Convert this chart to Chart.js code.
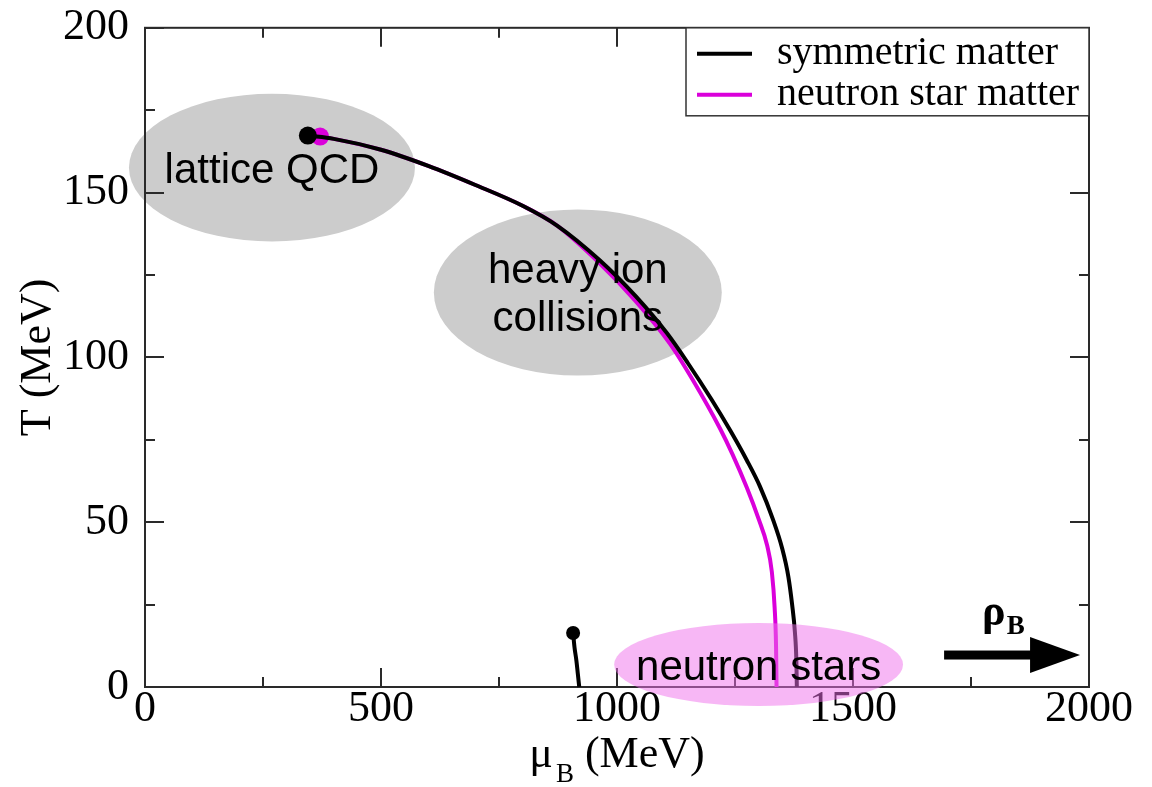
<!DOCTYPE html>
<html>
<head>
<meta charset="utf-8">
<title>QCD phase diagram</title>
<script src="https://cdn.jsdelivr.net/npm/chart.js@4.4.1/dist/chart.umd.min.js"></script>
<style>
  html, body { margin: 0; padding: 0; background: #ffffff; }
  #wrap { width: 1152px; height: 787px; }
</style>
</head>
<body>
<div id="wrap"><canvas id="phase" width="1152" height="787"></canvas></div>
<script>
// Transition lines: baryon chemical potential mu_B (MeV) and temperature T (MeV)
const symMu = [345, 400, 500, 600, 700, 800, 873, 964, 1040, 1106, 1150, 1200, 1240, 1275, 1303, 1330, 1350, 1363, 1371, 1377, 1380, 1381];
const symT  = [167.3, 166.3, 163.0, 158.1, 152.3, 146.0, 140.0, 129.4, 118.5, 107.3, 98.3, 87.3, 77.8, 68.8, 60.8, 51.0, 42.0, 33.5, 25.0, 16.5, 8.0, 0];

const nsMu = [371, 400, 500, 600, 700, 800, 873, 960, 1040, 1112, 1160, 1218, 1245, 1275, 1300, 1318, 1328, 1334, 1337, 1338];
const nsT  = [167.0, 166.3, 163.0, 158.1, 152.3, 146.0, 140.0, 129.0, 117.0, 104.2, 93.3, 78.5, 70.5, 60.5, 51.0, 43.0, 35.0, 24.0, 12.0, 0];

// Nuclear liquid-gas transition near saturation
const lgMu = [907, 910, 914, 917, 920];
const lgT  = [16.4, 12.0, 8.0, 4.0, 0];

const seriesNames = ['symmetric matter', 'neutron star matter'];

// Axis ticks (MeV)
const xTicks = [0, 500, 1000, 1500, 2000];
const yTicks = [0, 50, 100, 150, 200];

// Regions reached by each approach: centre and half-axes (MeV)
const regionNames  = [['lattice QCD'], ['heavy ion', 'collisions'], ['neutron stars']];
const regionMu     = [269, 917, 1300];
const regionT      = [157.6, 119.7, 6.8];
const regionHalfMu = [303, 305, 306];
const regionHalfT  = [22.4, 25.2, 12.6];

// Density arrow (MeV)
const arrowMu = [1693, 1981];
const arrowT  = [9.7, 9.7];

const SERIF = "'Liberation Serif', 'Times New Roman', serif";
const SANS  = "'Liberation Sans', Arial, sans-serif";
const MAGENTA = 'rgb(218, 0, 218)';
const AXIS = '#2a2a2a';

function pts(xs, ys) { return xs.map((x, i) => ({ x: x, y: ys[i] })); }
function firstDot(r) { return ctx => (ctx.dataIndex === 0 ? r : 0); }

const decor = {
  id: 'phaseDecor',
  beforeDatasetsDraw(chart) {
    const g = chart.ctx, xs = chart.scales.x, ys = chart.scales.y, a = chart.chartArea;
    g.save();
    // grey regions under the curves
    for (let i = 0; i < 2; i++) {
      const cx = xs.getPixelForValue(regionMu[i]), cy = ys.getPixelForValue(regionT[i]);
      const rx = Math.abs(xs.getPixelForValue(regionMu[i] + regionHalfMu[i]) - cx);
      const ry = Math.abs(ys.getPixelForValue(regionT[i] + regionHalfT[i]) - cy);
      g.beginPath();
      g.ellipse(cx, cy, rx, ry, 0, 0, Math.PI * 2);
      g.fillStyle = '#cccccc';
      g.fill();
    }
    // frame
    g.strokeStyle = AXIS;
    g.lineWidth = 2;
    g.strokeRect(a.left, a.top, a.right - a.left, a.bottom - a.top);
    // inward ticks on all four sides
    const major = 19, minor = 10;
    g.beginPath();
    for (let v = 0; v <= 2000; v += 250) {
      const px = Math.round(xs.getPixelForValue(v));
      const len = (v % 500 === 0) ? major : minor;
      g.moveTo(px, a.bottom); g.lineTo(px, a.bottom - len);
      g.moveTo(px, a.top); g.lineTo(px, a.top + len);
    }
    for (let v = 0; v <= 200; v += 25) {
      const py = Math.round(ys.getPixelForValue(v));
      const len = (v % 50 === 0) ? major : minor;
      g.moveTo(a.left, py); g.lineTo(a.left + len, py);
      g.moveTo(a.right, py); g.lineTo(a.right - len, py);
    }
    g.stroke();
    g.restore();
  },
  afterDatasetsDraw(chart) {
    const g = chart.ctx, xs = chart.scales.x, ys = chart.scales.y, a = chart.chartArea;
    g.save();
    // translucent neutron-star region over the curves
    {
      const i = 2;
      const cx = xs.getPixelForValue(regionMu[i]), cy = ys.getPixelForValue(regionT[i]);
      const rx = Math.abs(xs.getPixelForValue(regionMu[i] + regionHalfMu[i]) - cx);
      const ry = Math.abs(ys.getPixelForValue(regionT[i] + regionHalfT[i]) - cy);
      g.beginPath();
      g.ellipse(cx, cy, rx, ry, 0, 0, Math.PI * 2);
      g.fillStyle = 'rgba(240, 112, 236, 0.5)';
      g.fill();
    }
    // region labels
    g.fillStyle = '#000';
    g.font = '42px ' + SANS;
    g.textAlign = 'center';
    g.textBaseline = 'alphabetic';
    for (let i = 0; i < regionNames.length; i++) {
      const cx = xs.getPixelForValue(regionMu[i]), cy = ys.getPixelForValue(regionT[i]);
      const lines = regionNames[i];
      const step = 48;
      const y0 = cy + 15 - (lines.length - 1) * step / 2;
      lines.forEach((t, k) => g.fillText(t, cx, y0 + k * step));
    }
    // density arrow
    {
      const x0 = xs.getPixelForValue(arrowMu[0]), x1 = xs.getPixelForValue(arrowMu[1]);
      const y = ys.getPixelForValue(arrowT[0]);
      const head = 50, half = 18;
      g.fillStyle = '#000';
      g.fillRect(x0, y - 4.5, (x1 - head) - x0 + 2, 9);
      g.beginPath();
      g.moveTo(x1, y);
      g.lineTo(x1 - head, y - half);
      g.lineTo(x1 - head, y + half);
      g.closePath();
      g.fill();
      // rho_B label
      g.textAlign = 'left';
      g.font = 'bold 44px ' + SERIF;
      g.fillText('\u03C1', x0 + 38, y - 30);
      const w = g.measureText('\u03C1').width;
      g.font = 'bold 27px ' + SERIF;
      g.fillText('B', x0 + 38 + w + 1, y - 21);
    }
    // legend
    {
      const w = 403, h = 88;
      const lx = a.right - w, ly = a.top;
      g.fillStyle = '#fff';
      g.fillRect(lx, ly, w, h);
      g.strokeStyle = '#333';
      g.lineWidth = 1.5;
      g.strokeRect(lx, ly, w, h);
      const ds = chart.data.datasets.filter(d => seriesNames.includes(d.label));
      ds.forEach((d, k) => {
        const yy = ly + 26 + k * 41;
        g.strokeStyle = d.borderColor;
        g.lineWidth = 4;
        g.beginPath();
        g.moveTo(lx + 11, yy); g.lineTo(lx + 66, yy);
        g.stroke();
        g.fillStyle = '#000';
        g.font = '40px ' + SERIF;
        g.textAlign = 'left';
        g.textBaseline = 'alphabetic';
        g.fillText(d.label, lx + 91, yy + 10);
      });
    }
    // axis titles
    {
      g.fillStyle = '#000';
      g.textBaseline = 'alphabetic';
      g.textAlign = 'left';
      const big = '44px ' + SERIF, small = '27px ' + SERIF;
      g.font = big; const wMu = g.measureText('\u03BC').width;
      g.font = small; const wB = g.measureText('B').width;
      g.font = big; const wRest = g.measureText(' (MeV)').width;
      const total = wMu + 3 + wB + wRest;
      let x = (a.left + a.right) / 2 - total / 2;
      const base = a.bottom + 80;
      g.font = big; g.fillText('\u03BC', x, base); x += wMu + 3;
      g.font = small; g.fillText('B', x, base + 15); x += wB;
      g.font = big; g.fillText(' (MeV)', x, base);

      g.translate(50, (a.top + a.bottom) / 2);
      g.rotate(-Math.PI / 2);
      g.textAlign = 'center';
      g.fillText('T (MeV)', 0, 0);
    }
    g.restore();
  }
};

new Chart(document.getElementById('phase'), {
  type: 'scatter',
  data: {
    datasets: [
      {
        label: seriesNames[0],
        data: pts(symMu, symT),
        showLine: true,
        borderColor: '#000000',
        backgroundColor: '#000000',
        borderWidth: 4,
        cubicInterpolationMode: 'monotone',
        pointRadius: firstDot(9),
        pointBackgroundColor: '#000000',
        pointBorderWidth: 0,
        clip: false
      },
      {
        label: seriesNames[1],
        data: pts(nsMu, nsT),
        showLine: true,
        borderColor: MAGENTA,
        backgroundColor: MAGENTA,
        borderWidth: 4,
        cubicInterpolationMode: 'monotone',
        pointRadius: firstDot(9),
        pointBackgroundColor: MAGENTA,
        pointBorderWidth: 0,
        clip: false
      },
      {
        label: 'liquid-gas',
        data: pts(lgMu, lgT),
        showLine: true,
        borderColor: '#000000',
        backgroundColor: '#000000',
        borderWidth: 4,
        cubicInterpolationMode: 'monotone',
        pointRadius: firstDot(7),
        pointBackgroundColor: '#000000',
        pointBorderWidth: 0,
        clip: false
      }
    ]
  },
  options: {
    responsive: false,
    animation: false,
    devicePixelRatio: 1,
    layout: { padding: { top: 27, right: 63, left: 0, bottom: 0 } },
    plugins: { legend: { display: false }, tooltip: { enabled: false } },
    scales: {
      x: {
        type: 'linear',
        min: xTicks[0],
        max: xTicks[xTicks.length - 1],
        afterBuildTicks(s) { s.ticks = xTicks.map(v => ({ value: v })); },
        afterFit(s) { s.height = 100; },
        grid: { display: false },
        border: { display: false },
        ticks: {
          font: { family: SERIF, size: 44, lineHeight: 1 },
          color: '#000',
          padding: -8,
          maxRotation: 0,
          autoSkip: false,
          callback: v => String(v)
        }
      },
      y: {
        type: 'linear',
        min: yTicks[0],
        max: yTicks[yTicks.length - 1],
        afterBuildTicks(s) { s.ticks = yTicks.map(v => ({ value: v })); },
        afterFit(s) { s.width = 145; },
        grid: { display: false },
        border: { display: false },
        ticks: {
          font: { family: SERIF, size: 44, lineHeight: 0.9 },
          color: '#000',
          padding: 8,
          autoSkip: false,
          callback: v => String(v)
        }
      }
    }
  },
  plugins: [decor]
});
</script>
</body>
</html>
